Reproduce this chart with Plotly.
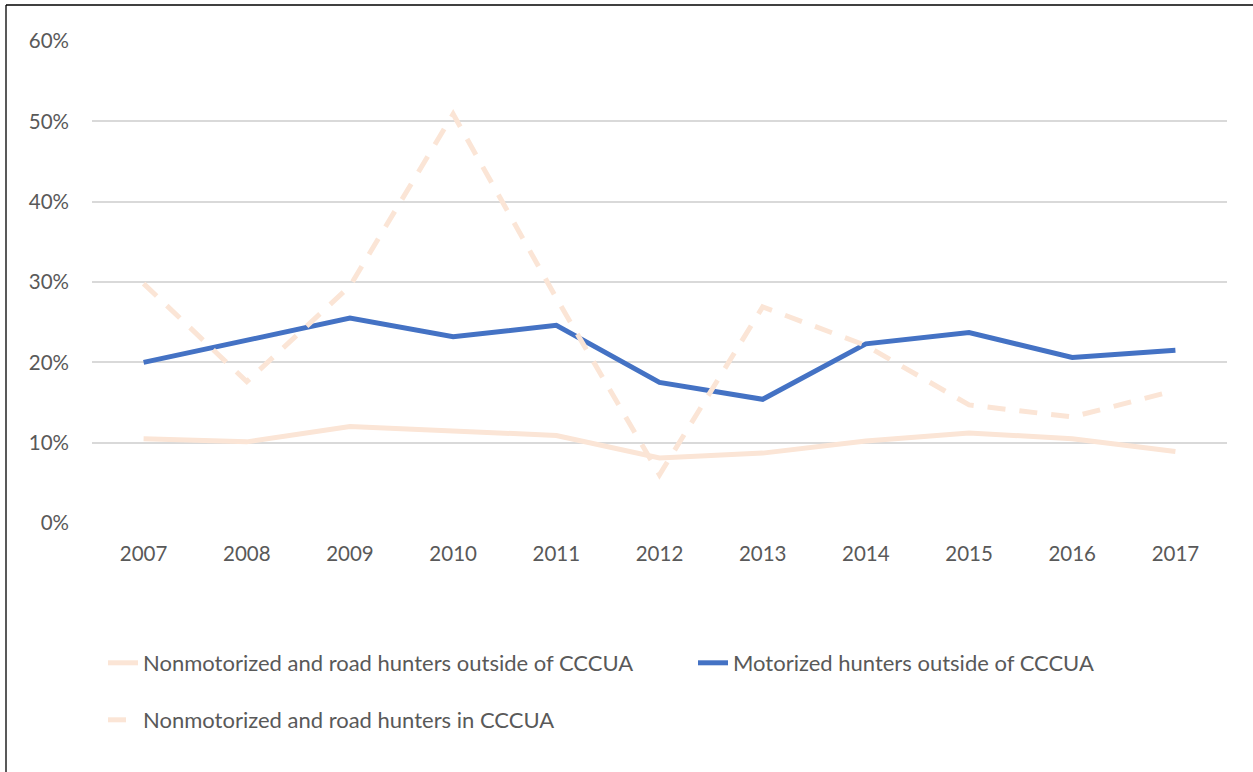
import plotly.graph_objects as go

years = ["2007", "2008", "2009", "2010", "2011", "2012", "2013", "2014", "2015", "2016", "2017"]
nonmotor_outside = [10.5, 10.1, 12.0, 11.4, 10.9, 8.1, 8.7, 10.2, 11.2, 10.5, 8.9]
motor_outside = [20.0, 22.8, 25.5, 23.2, 24.6, 17.5, 15.4, 22.3, 23.7, 20.6, 21.5]
nonmotor_in = [29.8, 17.6, 29.5, 50.9, 28.0, 6.0, 26.9, 22.1, 14.7, 13.2, 16.5]
y_ticks = [0, 10, 20, 30, 40, 50, 60]
y_labels = [f"{v}%" for v in y_ticks]

W, H = 1253, 772
L, R, T, B = 92, 1227, 41, 523

PEACH = "#FBE5D6"
BLUE = "#4472C4"
FONT = "Lato"
TICK_SIZE = 20.5
LEG_SIZE = 22
LW = 5

fig = go.Figure()
fig.add_trace(go.Scatter(x=years, y=nonmotor_outside, mode="lines",
                         name="Nonmotorized and road hunters outside of CCCUA",
                         line=dict(color=PEACH, width=LW), legend="legend", showlegend=True))
fig.add_trace(go.Scatter(x=years, y=motor_outside, mode="lines",
                         name="Motorized hunters outside of CCCUA",
                         line=dict(color=BLUE, width=LW), legend="legend2", showlegend=True))
fig.add_trace(go.Scatter(x=years, y=nonmotor_in, mode="lines",
                         name="Nonmotorized and road hunters in CCCUA",
                         line=dict(color=PEACH, width=LW, dash="18px,14px"), legend="legend3",
                         showlegend=True))

pw = R - L
ph = B - T
def px_x(p):
    return (p - L) / pw
def px_y(p):
    return (B - p) / ph

def leg(xp, yp):
    return dict(orientation="h", x=px_x(xp), y=px_y(yp), yanchor="middle", xanchor="left",
                font=dict(family=FONT, size=LEG_SIZE, color="#595959"),
                bgcolor="rgba(0,0,0,0)", visible=True)

fig.update_layout(
    width=W, height=H,
    showlegend=True,
    margin=dict(l=L, r=W - R, t=T, b=H - B, autoexpand=False),
    paper_bgcolor="white", plot_bgcolor="white",
    font=dict(family=FONT, size=TICK_SIZE, color="#595959"),
    xaxis=dict(type="category", range=[-0.5, 10.5], showgrid=False, zeroline=False,
               showline=False, ticks="", tickfont=dict(size=TICK_SIZE, color="#595959"),
               ticklabelstandoff=16),
    yaxis=dict(range=[0, 60], tickvals=y_ticks, ticktext=y_labels, showgrid=True,
               gridcolor="#D9D9D9", gridwidth=1.5, zeroline=False, showline=False,
               ticks="", tickfont=dict(size=TICK_SIZE, color="#595959"), ticklabelstandoff=22),
    legend=leg(103, 663),
    legend2=leg(693, 663),
    legend3=leg(103, 720),
    shapes=[
        dict(type="line", xref="paper", yref="paper", x0=px_x(6), x1=px_x(6),
             y0=px_y(5), y1=px_y(H + 5), line=dict(color="#595959", width=2)),
        dict(type="line", xref="paper", yref="paper", x0=px_x(6), x1=px_x(W + 5),
             y0=px_y(5), y1=px_y(5), line=dict(color="#000000", width=1.5)),
    ],
)

fig.write_html("out.html", config={"displayModeBar": False},
               post_script="document.body.style.margin='0px';")
